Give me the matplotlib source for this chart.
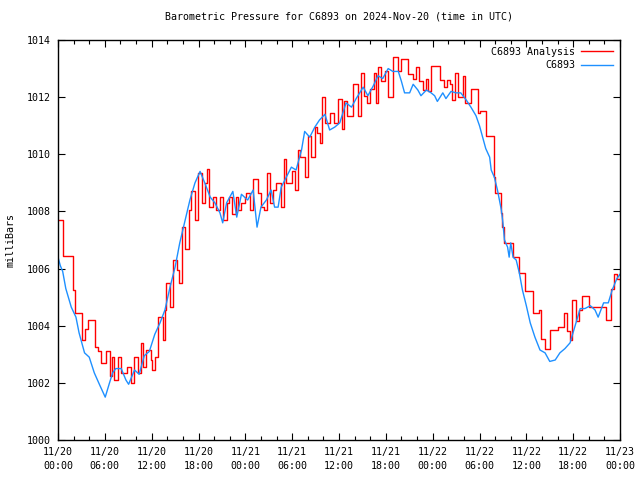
import matplotlib
matplotlib.use('Agg')
import matplotlib.pyplot as plt
from datetime import datetime, timedelta

# hours after 2024-11-20 00:00 UTC
obs_hours = [0.0, 0.3, 0.6, 1.0, 1.7, 2.3, 2.7, 3.4, 4.0, 4.65, 5.3, 6.05, 6.6, 7.0, 7.4, 8.1,
	8.7, 9.05, 9.8, 10.4, 11.05, 11.7, 12.4, 13.07, 13.7, 14.35, 15.0, 15.6, 16.3, 16.9, 17.55,
	18.2, 18.8, 19.5, 20.1, 20.75, 21.1, 21.6, 22.4, 22.9, 23.5, 24.3, 25.0, 25.5, 26.0, 26.7,
	27.3, 27.75, 28.2, 28.6, 29.25, 29.9, 30.5, 31.2, 31.6, 32.25, 32.9, 33.5, 34.2, 34.8,
	35.45, 36.1, 36.9, 37.6, 38.2, 39.1, 39.7, 40.4, 41.0, 41.6, 42.3, 42.9, 43.6, 44.0, 44.4,
	45.05, 45.5, 46.1, 46.5, 47.2, 47.8, 48.25, 48.6, 49.3, 49.7, 50.35, 51.0, 51.6, 52.3,
	52.9, 53.55, 54.0, 54.4, 54.8, 55.3, 55.5, 55.9, 56.3, 56.8, 57.0, 57.2, 57.6, 57.8, 58.0,
	58.3, 58.7, 59.1, 59.5, 60.0, 60.5, 61.1, 61.75, 62.4, 63.0, 63.7, 64.3, 64.95, 65.6,
	66.2, 66.9, 67.5, 68.2, 68.8, 69.2, 69.9, 70.5, 71.0, 71.6, 72.0]
obs_mb = [1006.4, 1006.1, 1005.9, 1005.3, 1004.65, 1004.3, 1003.75, 1003.05, 1002.9, 1002.35,
	1001.95, 1001.5, 1002.0, 1002.35, 1002.5, 1002.5, 1002.1, 1001.95, 1002.45, 1002.3,
	1002.95, 1003.1, 1003.7, 1004.1, 1004.55, 1005.35, 1006.05, 1006.9, 1007.7, 1008.4,
	1009.0, 1009.4, 1009.0, 1008.5, 1008.3, 1007.95, 1007.6, 1008.3, 1008.7, 1007.8, 1008.6,
	1008.4, 1008.75, 1007.45, 1008.15, 1008.4, 1008.75, 1008.15, 1008.15, 1008.85, 1009.2,
	1009.55, 1009.45, 1010.15, 1010.8, 1010.6, 1010.95, 1011.2, 1011.4, 1010.85, 1010.95,
	1011.1, 1011.8, 1011.65, 1011.95, 1012.35, 1012.05, 1012.4, 1012.75, 1012.65, 1013.0,
	1012.9, 1012.9, 1012.55, 1012.15, 1012.15, 1012.45, 1012.25, 1012.05, 1012.25, 1012.15,
	1012.05, 1011.85, 1012.15, 1011.95, 1012.2, 1012.15, 1012.15, 1011.9, 1011.65, 1011.35,
	1011.0, 1010.6, 1010.2, 1009.9, 1009.45, 1009.2, 1008.75, 1008.05, 1007.6, 1007.0,
	1006.75, 1006.4, 1006.9, 1006.4, 1006.3, 1005.85, 1005.25, 1004.7, 1004.1, 1003.6,
	1003.15, 1003.05, 1002.75, 1002.8, 1003.05, 1003.2, 1003.4, 1003.95, 1004.6, 1004.6,
	1004.7, 1004.55, 1004.3, 1004.8, 1004.8, 1005.25, 1005.65, 1005.8]

ana_hours = [0.0, 0.6, 1.9, 2.2, 3.1, 3.4, 3.8, 4.7, 5.1, 5.5, 6.1, 6.6, 6.9, 7.2, 7.65, 8.1,
	8.9, 9.35, 9.8, 10.2, 10.6, 10.9, 11.3, 11.9, 12.0, 12.4, 12.85, 13.4, 13.7, 13.9, 14.35,
	14.7, 15.2, 15.55, 15.85, 16.3, 16.8, 17.1, 17.55, 17.9, 18.5, 18.8, 19.05, 19.4, 19.9,
	20.3, 20.75, 21.2, 21.6, 21.9, 22.25, 22.8, 23.1, 23.5, 23.9, 24.1, 24.55, 25.0, 25.6,
	26.0, 26.35, 26.8, 27.1, 27.5, 27.9, 28.6, 28.9, 29.25, 30.0, 30.4, 30.7, 31.05, 31.6,
	32.0, 32.45, 32.9, 33.2, 33.6, 33.85, 34.2, 34.9, 35.3, 35.9, 36.4, 36.7, 37.05, 37.8,
	38.4, 38.85, 39.2, 39.6, 40.0, 40.5, 40.8, 41.0, 41.35, 41.9, 42.3, 42.9, 43.5, 43.9,
	44.9, 45.5, 45.9, 46.3, 46.8, 47.1, 47.4, 47.8, 49.0, 49.4, 49.9, 50.25, 50.5, 50.9,
	51.2, 51.9, 52.2, 52.9, 53.8, 54.1, 54.8, 55.8, 56.0, 56.7, 56.9, 57.1, 58.3, 59.0,
	59.8, 60.9, 61.6, 61.9, 62.4, 63.0, 64.1, 64.8, 65.2, 65.6, 65.8, 66.4, 66.7, 67.1,
	68.0, 70.2, 70.9, 71.2, 71.65, 72.0]
ana_mb = [1007.7, 1006.45, 1005.25, 1004.45, 1003.5, 1003.9, 1004.2, 1003.25, 1003.1, 1002.7,
	1003.1, 1002.25, 1002.9, 1002.1, 1002.9, 1002.35, 1002.55, 1002.0, 1002.9, 1002.35,
	1003.4, 1002.55, 1003.15, 1002.8, 1002.45, 1002.9, 1004.3, 1003.5, 1004.55, 1005.5,
	1004.65, 1006.3, 1005.95, 1005.5, 1007.45, 1006.7, 1008.05, 1008.7, 1007.7, 1009.35,
	1008.3, 1009.0, 1009.5, 1008.15, 1008.5, 1008.05, 1008.5, 1007.7, 1008.3, 1008.5,
	1007.9, 1008.5, 1008.05, 1008.3, 1008.5, 1008.65, 1008.05, 1009.15, 1008.65, 1008.15,
	1008.05, 1009.35, 1008.3, 1008.75, 1009.0, 1008.15, 1009.85, 1009.0, 1009.4, 1008.75,
	1010.15, 1009.9, 1009.2, 1010.65, 1009.9, 1010.95, 1010.75, 1010.4, 1012.0, 1011.1,
	1011.45, 1011.1, 1011.95, 1010.9, 1011.85, 1011.35, 1012.45, 1011.35, 1012.85, 1012.05,
	1011.8, 1012.3, 1012.85, 1011.8, 1013.05, 1012.55, 1012.9, 1012.0, 1013.4, 1012.9,
	1013.35, 1012.8, 1012.65, 1013.05, 1012.55, 1012.25, 1012.65, 1012.2, 1013.1, 1012.6,
	1012.35, 1012.6, 1012.45, 1011.9, 1012.85, 1012.0, 1012.75, 1011.8, 1012.3, 1011.45,
	1011.5, 1010.65, 1009.2, 1008.65, 1007.95, 1007.45, 1006.9, 1006.4, 1005.85, 1005.2,
	1004.45, 1004.55, 1003.55, 1003.2, 1003.85, 1003.95, 1004.45, 1003.8, 1003.5, 1004.9,
	1004.15, 1004.55, 1005.05, 1004.65, 1004.2, 1005.3, 1005.8, 1005.65, 1005.65]

start = datetime(2024, 11, 20)
tick_hours = list(range(0, 73, 6))
tick_labels = [(start + timedelta(hours=h)).strftime('%m/%d\n%H:%M') for h in tick_hours]
y_ticks = list(range(1000, 1015, 2))

plt.rcParams['font.family'] = 'DejaVu Sans Mono'
plt.rcParams['font.size'] = 7.2

fig = plt.figure(figsize=(6.4, 4.8), dpi=100)
ax = fig.add_axes([58/640, 40/480, 562/640, 400/480])

ax.plot(ana_hours, ana_mb, color='#ff0000', lw=1.0, drawstyle='steps-post', label='C6893 Analysis')
ax.plot(obs_hours, obs_mb, color='#1e90ff', lw=1.0, label='C6893')

ax.set_xlim(0, 72)
ax.set_ylim(1000, 1014)
ax.set_xticks(tick_hours)
ax.set_xticklabels(tick_labels, linespacing=1.5)
ax.set_xticks(range(0, 73, 2), minor=True)
ax.set_yticks(y_ticks)
ax.tick_params(which='both', direction='in', top=True, right=True, width=0.8)
ax.tick_params(which='major', length=5, pad=5)
ax.tick_params(which='minor', length=3)
for s in ax.spines.values():
	s.set_linewidth(1.0)

ax.set_ylabel('milliBars', labelpad=8)
ax.set_title('Barometric Pressure for C6893 on 2024-Nov-20 (time in UTC)', fontsize=7.2, pad=15)
ax.legend(loc='upper right', frameon=False, markerfirst=False, handlelength=3.2,
	borderaxespad=0.3, labelspacing=0.35, handletextpad=0.6)

fig.savefig('out.png', dpi=100)
